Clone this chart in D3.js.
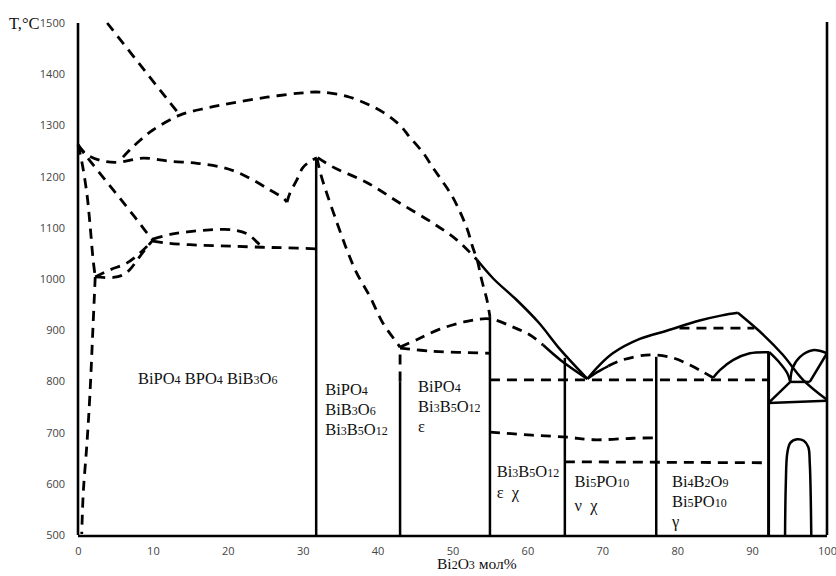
<!DOCTYPE html>
<meta charset="utf-8">
<style>
    body {
        margin: 0;
        background-color: #fff;
    }

    svg {
        display: block;
    }

    .tick text {
        font-family: "Open Sans", sans-serif;
        font-size: 11px;
        fill: #444;
    }

    .lbl {
        font-family: "Liberation Serif", "Times New Roman", "DejaVu Serif", serif;
        font-size: 16.5px;
        fill: #111;
    }

    .ln {
        fill: none;
        stroke: #000;
        stroke-width: 2.5px;
        stroke-linejoin: round;
    }

    .dash {
        stroke-width: 2.8px;
        stroke-dasharray: 10, 7;
    }
</style>
<svg width="836" height="576"></svg>
<script src="https://cdn.jsdelivr.net/npm/d3@7"></script>
<script>
    // ticks
    var xTicks = [0, 10, 20, 30, 40, 50, 60, 70, 80, 90, 100];
    var yTicks = [500, 600, 700, 800, 900, 1000, 1100, 1200, 1300, 1400, 1500];

    // curves, [Bi2O3 mol%, T]
    var topBranch = [[3.9, 1500], [8.2, 1420], [13.6, 1320]];
    var liquidusDome = [[6.0, 1238], [6.9, 1252], [8.3, 1271], [10.0, 1291], [13.6, 1320], [17.2, 1334], [20.7, 1344],
        [25.2, 1355], [29.6, 1363], [32.3, 1365], [36.3, 1355], [40.7, 1326], [43.0, 1300], [44.3, 1277], [46.1, 1246],
        [47.4, 1217], [48.7, 1190], [50.1, 1158], [51.9, 1100], [52.7, 1062], [53.3, 1037], [53.9, 998], [54.6, 959], [55.0, 926]];
    var solidusTop = [[0, 1262], [1.0, 1245], [2.9, 1232], [5.2, 1228], [8.7, 1236], [12.3, 1230], [15.9, 1226],
        [19.0, 1219], [21.2, 1209], [23.4, 1193], [25.6, 1174], [27.4, 1158], [27.9, 1150]];
    var solidusRise = [[27.9, 1150], [28.3, 1168], [29.2, 1193], [30.0, 1217], [31.0, 1230], [31.9, 1237]];
    var leftDiag = [[0, 1262], [1.2, 1238], [2.9, 1207], [4.7, 1174], [6.5, 1141], [7.9, 1115], [9.2, 1090], [10, 1076]];
    var leftSteep = [[0, 1262], [0.5, 1230], [1.2, 1165], [1.6, 1107], [2.0, 1040], [2.3, 1004]];
    var leftLow = [[2.3, 1004], [2.0, 906], [1.6, 777], [1.2, 680], [0.7, 582], [0.5, 502]];
    var lowUpper = [[2.3, 1004], [4.3, 1018], [6.5, 1031], [8.3, 1051], [10, 1076]];
    var lowLower = [[2.3, 1004], [4.7, 1003], [6.0, 1008], [6.9, 1018], [7.9, 1037], [9.2, 1062], [10, 1076]];
    var bumpUpper = [[10, 1078], [12.3, 1087], [14.6, 1092], [17.6, 1096], [20.7, 1096], [22.6, 1088], [23.9, 1072], [24.6, 1062]];
    var plateau = [[10, 1074], [12, 1070], [16.3, 1066], [20.8, 1064], [24.6, 1062], [27.4, 1061], [31.8, 1059]];
    var peakLeft = [[31.9, 1236], [32.4, 1205], [33.2, 1168], [34.6, 1109], [35.9, 1057], [37.2, 1012], [39.0, 965],
        [40.7, 914], [42.6, 875], [43, 867]];
    var peakRight = [[32.0, 1237], [34.0, 1219], [38.6, 1188], [43.0, 1148], [47.4, 1109], [50.6, 1076], [53.3, 1037]];
    var dome43 = [[43, 867], [45.3, 882], [48.3, 902], [51.9, 917], [55, 922], [58.1, 906], [60.3, 891], [62.1, 871]];
    var dome43End = [[62.1, 871], [64.4, 842], [68, 805]];
    var line43 = [[43, 865], [47.3, 859], [55, 855]];
    var liquidusRight = [[53.3, 1037], [55.5, 1000], [58.5, 960], [61.5, 915], [64.4, 862], [68, 805]];
    var domeRight = [[68, 805], [69.5, 830], [71.4, 855], [75, 883], [78.6, 899], [83, 919], [86, 929], [88.1, 934]];
    var fallRight = [[88.1, 934], [91.5, 891], [94.1, 852], [96.8, 803], [100, 764]];
    var flat904 = [[80.3, 904], [90.3, 904]];
    var dome2Solid = [[68, 805], [69.3, 818], [70.8, 830]];
    var dome2Dash = [[70.8, 830], [72.7, 842], [76.4, 852], [79.4, 846], [81.7, 832], [83.5, 818], [84.8, 807]];
    var dome3 = [[84.8, 807], [85.7, 822], [87.5, 842], [89.7, 855], [92.3, 857]];
    var iso803 = [[55, 803], [92.2, 803]];
    var iso700 = [[55, 701], [60.6, 695], [65.3, 691], [68.8, 686], [74.1, 689], [77.2, 690]];
    var iso643 = [[65, 643], [92.2, 641]];
    var xDown = [[92.3, 857], [93.7, 836], [94.7, 816], [95.1, 799]];
    var xDome = [[95.1, 799], [95.4, 826], [96.4, 848], [98.1, 861], [100, 855]];
    var xRise = [[97.7, 799], [100, 855]];
    var xTop = [[95.1, 799], [97.7, 799]];
    var xLeft = [[92.2, 758], [95.1, 799]];
    var xBase = [[92.2, 758], [100, 762]];
    var arch = [[94.4, 500], [94.5, 600], [94.7, 660], [95.1, 680], [96.0, 687], [96.9, 684], [97.5, 672], [97.7, 640], [97.9, 500]];

    // verticals [x, T from, T to]
    var verticals = [[31.8, 500, 1236], [43, 500, 800], [55, 500, 926], [65, 500, 846], [77.2, 500, 848], [92.2, 500, 857]];
    var verticalsDash = [[43, 800, 867]];

    var svg = d3.select("svg");

    var x = d3.scaleLinear().domain([0, 100]).range([78, 827]);
    var y = d3.scaleLinear().domain([500, 1500]).range([535, 23]);

    var straight = d3.line()
        .x(function (d) { return x(d[0]); })
        .y(function (d) { return y(d[1]); });

    var smooth = d3.line()
        .curve(d3.curveCatmullRom.alpha(0.5))
        .x(function (d) { return x(d[0]); })
        .y(function (d) { return y(d[1]); });

    // axes: labels only
    var gy = svg.append("g")
        .attr("transform", "translate(78,0)")
        .call(d3.axisLeft(y).tickValues(yTicks).tickFormat(d3.format("d")).tickSize(0).tickPadding(13));
    gy.select(".domain").remove();

    var gx = svg.append("g")
        .attr("transform", "translate(0," + (y(500) + 1) + ")")
        .call(d3.axisBottom(x).tickValues(xTicks).tickFormat(d3.format("d")).tickSize(0).tickPadding(11));
    gx.select(".domain").remove();

    // frame
    var frame = [
        [[0, 500], [0, 1500]],
        [[100, 500], [100, 1502]],
        [[0, 498], [100, 498]]
    ];
    svg.selectAll(".frame")
        .data(frame)
        .enter().append("path")
        .attr("class", "ln")
        .style("stroke-width", "2.6px")
        .attr("d", straight);

    var dashed = [topBranch, liquidusDome, solidusTop, solidusRise, leftDiag, leftSteep, leftLow, lowUpper, lowLower,
        bumpUpper, plateau, peakLeft, peakRight, dome43, line43, flat904, dome2Dash, iso803, iso700, iso643];
    var solid = [dome43End, liquidusRight, domeRight, fallRight, dome2Solid, dome3, xDown, xDome, arch];
    var solidStraight = [xRise, xTop, xLeft, xBase];

    svg.selectAll(".dsh")
        .data(dashed)
        .enter().append("path")
        .attr("class", "ln dash")
        .attr("d", smooth);

    svg.selectAll(".sld")
        .data(solid)
        .enter().append("path")
        .attr("class", "ln")
        .attr("d", smooth);

    svg.selectAll(".sls")
        .data(solidStraight)
        .enter().append("path")
        .attr("class", "ln")
        .attr("d", straight);

    svg.selectAll(".vert")
        .data(verticals)
        .enter().append("line")
        .attr("class", "ln")
        .attr("x1", function (d) { return x(d[0]); })
        .attr("x2", function (d) { return x(d[0]); })
        .attr("y1", function (d) { return y(d[1]); })
        .attr("y2", function (d) { return y(d[2]); })
        .style("stroke-width", function (d) { return d[0] > 90 ? "3px" : "2.5px"; });

    svg.selectAll(".vdash")
        .data(verticalsDash)
        .enter().append("line")
        .attr("class", "ln dash")
        .attr("x1", function (d) { return x(d[0]); })
        .attr("x2", function (d) { return x(d[0]); })
        .attr("y1", function (d) { return y(d[1]); })
        .attr("y2", function (d) { return y(d[2]); });

    // formulas: digits smaller, on the baseline
    function chem(px, py, str) {
        var t = svg.append("text").attr("class", "lbl").attr("x", px).attr("y", py);
        str.split(/(\d+)/).forEach(function (part, i) {
            if (!part) return;
            t.append("tspan").attr("font-size", i % 2 ? "12px" : null).text(part);
        });
        return t;
    }

    chem(x(8.0), 384, "BiPO4 BPO4 BiB3O6");
    chem(x(33.0), 395, "BiPO4");
    chem(x(33.0), 415, "BiB3O6");
    chem(x(33.0), 435, "Bi3B5O12");
    chem(x(45.4), 392, "BiPO4");
    chem(x(45.4), 412, "Bi3B5O12");
    chem(x(45.4), 432, "ε");
    chem(x(55.9), 477, "Bi3B5O12");
    chem(x(55.9), 498, "ε\u00a0\u00a0χ");
    chem(x(66.3), 487, "Bi5PO10");
    chem(x(66.3), 511, "ν\u00a0\u00a0χ");
    chem(x(79.3), 487, "Bi4B2O9");
    chem(x(79.3), 507, "Bi5PO10");
    chem(x(79.3), 527, "γ");

    // axis titles
    svg.append("text").attr("class", "lbl")
        .attr("x", 9).attr("y", 29)
        .text("T,°C");
    chem(437, 569, "Bi2O3 мол%").style("font-size", "15.5px");
</script>
